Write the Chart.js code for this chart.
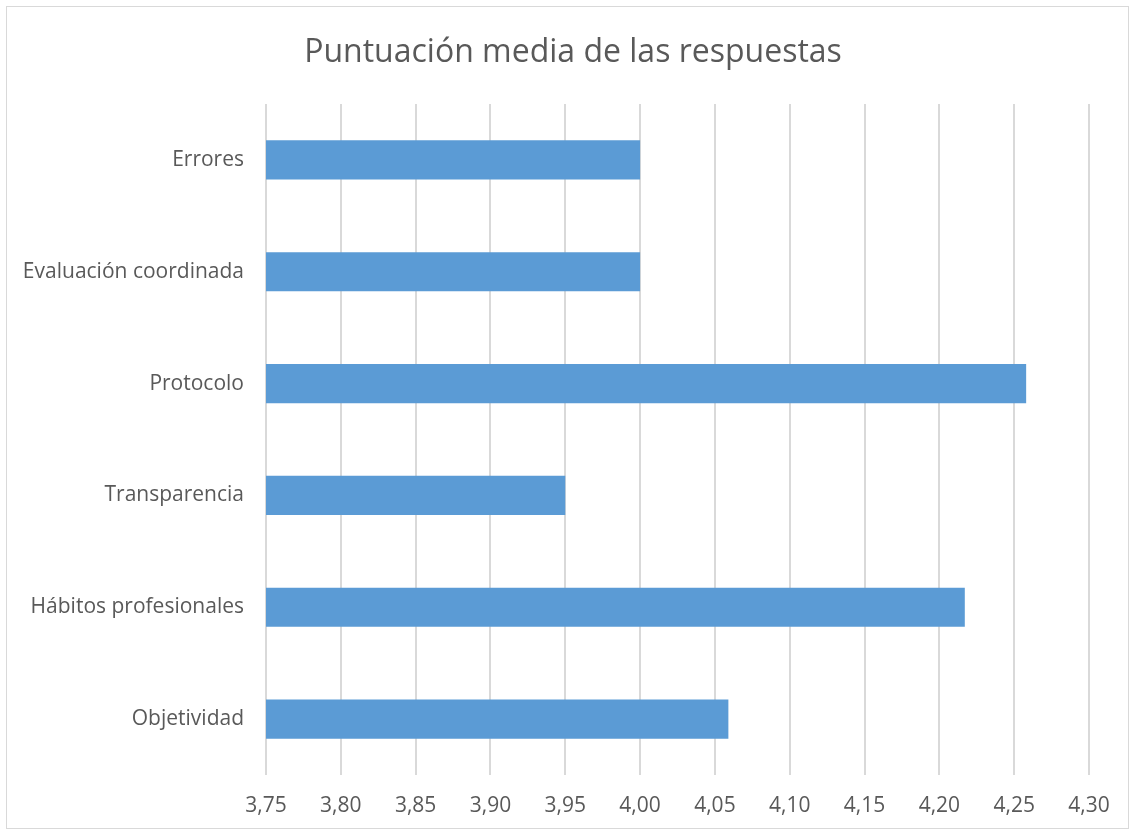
<!DOCTYPE html>
<html>
<head>
<meta charset="utf-8">
<script src="https://cdn.jsdelivr.net/npm/chart.js@4.4.1/dist/chart.umd.min.js"></script>
<style>
    html, body { margin: 0; padding: 0; background: #fff; }
    #wrap { position: relative; width: 1134px; height: 834px; }
    #frame {
        position: absolute; left: 6px; top: 6px; width: 1121px; height: 821px;
        border: 1px solid #d9d9d9; pointer-events: none;
    }
    #title {
        position: absolute; left: 0; top: 30px; width: 1146px; text-align: center;
        font-family: 'Open Sans', 'Liberation Sans', sans-serif; font-size: 32px;
        line-height: 40px; color: #595959;
    }
    canvas { position: absolute; left: 0; top: 0; }
</style>
</head>
<body>
<div id="wrap">
    <canvas id="chart" width="1134" height="834"></canvas>
    <div id="title">Puntuación media de las respuestas</div>
    <div id="frame"></div>
</div>
<script>
// ============================================
// DATA
// ============================================
const categories = ['Errores', 'Evaluación coordinada', 'Protocolo', 'Transparencia', 'Hábitos profesionales', 'Objetividad'];
const scores = [4.00, 4.00, 4.258, 3.95, 4.217, 4.059];
const xTickLabels = ['3,75', '3,80', '3,85', '3,90', '3,95', '4,00', '4,05', '4,10', '4,15', '4,20', '4,25', '4,30'];

const FONT = "'Open Sans', 'Liberation Sans', sans-serif";
const TEXT = '#595959';
const GRID = '#d9d9d9';

// ============================================
// CHART
// ============================================
new Chart(document.getElementById('chart'), {
    type: 'bar',
    data: {
        labels: categories,
        datasets: [{
            data: scores,
            backgroundColor: '#5b9bd5',
            categoryPercentage: 1,
            barPercentage: 0.35
        }]
    },
    options: {
        indexAxis: 'y',
        responsive: false,
        animation: false,
        layout: { padding: { left: 0, right: 45, top: 104, bottom: 0 } },
        plugins: {
            legend: { display: false },
            tooltip: { enabled: false },
            title: { display: false }
        },
        scales: {
            x: {
                min: 3.75,
                max: 4.30,
                ticks: {
                    stepSize: 0.05,
                    color: TEXT,
                    font: { family: FONT, size: 21 },
                    padding: 18,
                    maxRotation: 0,
                    autoSkip: false,
                    callback: (v, i) => xTickLabels[i]
                },
                grid: { color: GRID, lineWidth: 2, drawTicks: false },
                border: { display: false },
                afterFit: (scale) => { scale.height = 59; }
            },
            y: {
                ticks: {
                    color: TEXT,
                    font: { family: FONT, size: 21 },
                    padding: 22
                },
                grid: { display: false, drawTicks: false },
                border: { display: false },
                afterFit: (scale) => { scale.width = 266; }
            }
        }
    }
});
</script>
</body>
</html>
